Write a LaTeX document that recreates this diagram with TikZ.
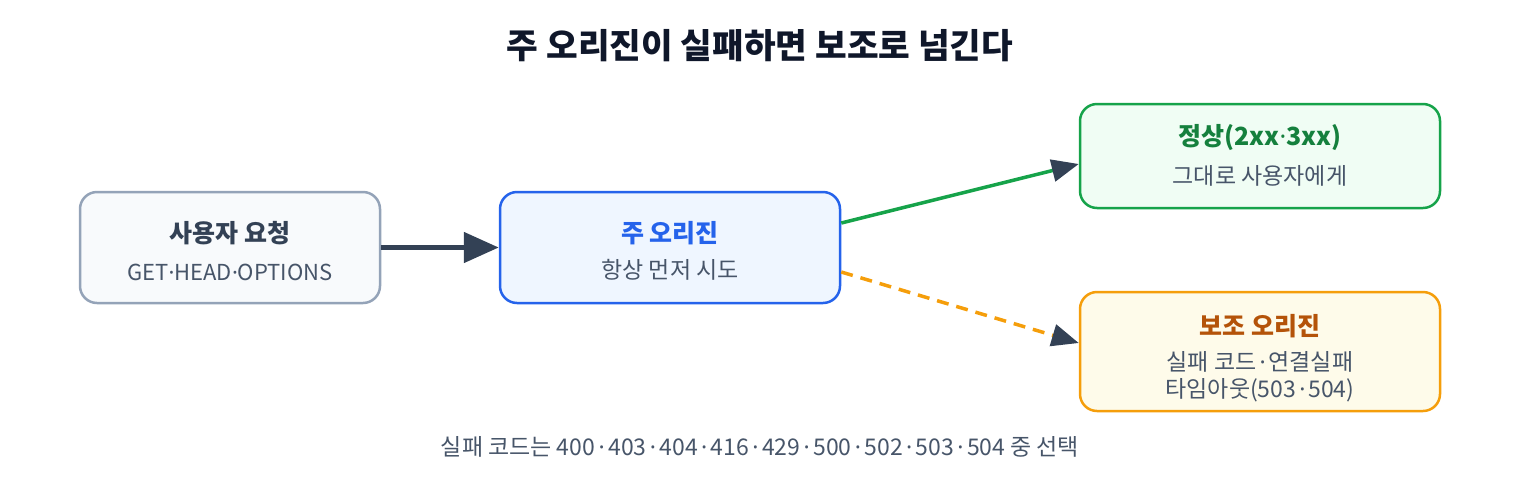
\documentclass[tikz,border=0pt]{standalone}
\usepackage{fontspec}
\setmainfont{Noto Sans CJK KR}
\newfontfamily\latinf{Noto Sans}
\usetikzlibrary{arrows.meta}
\definecolor{slateD}{HTML}{334155}
\definecolor{slateM}{HTML}{475569}
\definecolor{titleC}{HTML}{0F172A}
\definecolor{userF}{HTML}{F8FAFC}
\definecolor{userB}{HTML}{94A3B8}
\definecolor{primF}{HTML}{EFF6FF}
\definecolor{primB}{HTML}{2563EB}
\definecolor{okF}{HTML}{F0FDF4}
\definecolor{okB}{HTML}{16A34A}
\definecolor{okT}{HTML}{15803D}
\definecolor{secF}{HTML}{FEFBEA}
\definecolor{secB}{HTML}{F59E0B}
\definecolor{secT}{HTML}{B45309}
\newcommand{\ndot}{{\latinf ·}}
\newcommand{\mdot}{\kern3pt{\latinf ·}\kern3pt}
\newcommand{\fdot}{\kern3.4pt{\latinf ·}\kern3.4pt}
\tikzset{
  box/.style={draw, line width=2.5pt, rounded corners=17pt, align=center, inner sep=0pt},
  ttl/.style={font=\fontsize{25}{30}\selectfont\bfseries},
  sub/.style={font=\fontsize{23}{28}\selectfont, text=slateM},
}
\begin{document}
\begin{tikzpicture}[x=1pt,y=-1pt]
\useasboundingbox (0,0) rectangle (1520,480);
\node[font=\fontsize{34.4}{40}\selectfont\bfseries, text=titleC] (title) at (760,46) {주 오리진이 실패하면 보조로 넘긴다};
% boxes
\node[box, fill=userF, draw=userB, minimum width=300pt, minimum height=111pt] (user) at (230,247.5) {};
\node[box, fill=primF, draw=primB, minimum width=340pt, minimum height=111pt] (prim) at (670,247.5) {};
\node[box, fill=okF, draw=okB, minimum width=360pt, minimum height=104pt] (ok) at (1260,156) {};
\node[box, fill=secF, draw=secB, minimum width=360pt, minimum height=119pt] (sec) at (1260,351.5) {};
% texts
\node[ttl, text=slateD] (userT) at (230,233) {사용자 요청};
\node[sub, font=\fontsize{22}{28}\selectfont] (userS) at (230,272) {GET\ndot HEAD\ndot OPTIONS};
\node[ttl, text=primB] (primT) at (670,233) {주 오리진};
\node[sub] (primS) at (670,270) {항상 먼저 시도};
\node[ttl, text=okT] (okT) at (1260,138) {정상(2xx{\latinf\bfseries ·}3xx)};
\node[sub] (okS) at (1260,176) {그대로 사용자에게};
\node[ttl, text=secT] (secT) at (1260,326) {보조 오리진};
\node[sub] (secS1) at (1260,362) {실패 코드\mdot 연결실패};
\node[sub] (secS2) at (1260,390) {타임아웃(503\mdot 504)};
\node[sub] (foot) at (760,447) {실패 코드는 400\fdot 403\fdot 404\fdot 416\fdot 429\fdot 500\fdot 502\fdot 503\fdot 504 중 선택};
% connectors
\draw[slateD, line width=5pt, -{Triangle[length=35pt,width=30pt]}] (user.east) -- (prim.west);
\draw[okB, line width=3.5pt, -{Triangle[length=27pt,width=22pt,color=slateD]}] ([yshift=24.5pt]prim.east) -- ([yshift=-8pt]ok.west);
\draw[secB, line width=3.5pt, dash pattern=on 12pt off 8pt, -{Triangle[length=27pt,width=22pt,color=slateD]}] ([yshift=-24.5pt]prim.east) -- ([yshift=8.5pt]sec.west);
\end{tikzpicture}
\end{document}
